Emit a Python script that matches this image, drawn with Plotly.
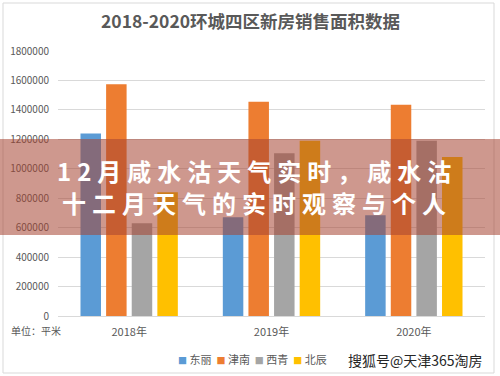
import plotly.graph_objects as go

# ---- data ----
years = ["2018年", "2019年", "2020年"]
dongli = [1240000, 670000, 685000]
jinnan = [1575000, 1455000, 1435000]
xiqing = [630000, 1105000, 1190000]
beichen = [840000, 1190000, 1080000]
series_names = ["东丽", "津南", "西青", "北辰"]
series_colors = ["#5B9BD5", "#ED7D31", "#A5A5A5", "#FFC000"]
title_text = "2018-2020环城四区新房销售面积数据"
unit_text = "单位：平米"
overlay_lines = ["12月咸水沽天气实时，咸水沽", "十二月天气的实时观察与个人"]
watermark = "搜狐号@天津365淘房"

W, H = 500, 376
L, R, T, B = 58, 485, 51, 316
CJK = "Noto Sans CJK SC"


def px_x(x):
    return (x - L) / (R - L)


def px_y(y):
    return (B - y) / (B - T)


fig = go.Figure()
for name, vals, col in zip(series_names, [dongli, jinnan, xiqing, beichen], series_colors):
    fig.add_trace(go.Bar(x=years, y=vals, name=name, marker=dict(color=col, line=dict(width=0))))

spaced = ["\u2005".join(list(s)) for s in overlay_lines]

legend_text = "  ".join(
    f"<span style='color:{c};font-size:9px'>■</span> {n}" for n, c in zip(series_names, series_colors)
)

annotations = [
    dict(text="<b>" + title_text + "</b>", x=px_x(250), y=px_y(20), xref="paper", yref="paper",
         showarrow=False, font=dict(family=CJK, size=17.5, color="#595959"), xanchor="center", yanchor="middle"),
    dict(text=unit_text, x=px_x(9), y=px_y(330), xref="paper", yref="paper",
         showarrow=False, font=dict(family=CJK, size=10, color="#595959"), xanchor="left", yanchor="middle"),
    dict(text=legend_text, x=px_x(176), y=px_y(359), xref="paper", yref="paper", showarrow=False,
         font=dict(family=CJK, size=11, color="#595959"), xanchor="left", yanchor="middle"),
    dict(text=watermark, x=px_x(415), y=px_y(360), xref="paper", yref="paper", showarrow=False,
         font=dict(family=CJK, size=14, color="#262626"), xanchor="center", yanchor="middle"),
    dict(text="<b>" + spaced[0] + "</b>", x=px_x(254), y=px_y(170), xref="paper", yref="paper",
         showarrow=False, font=dict(family=CJK, size=24, color="white"), xanchor="center", yanchor="middle"),
    dict(text="<b>" + spaced[1] + "</b>", x=px_x(254), y=px_y(202), xref="paper", yref="paper",
         showarrow=False, font=dict(family=CJK, size=24, color="white"), xanchor="center", yanchor="middle"),
]

shapes = [
    dict(type="rect", xref="paper", yref="paper", x0=px_x(3), x1=px_x(494), y0=px_y(3), y1=px_y(373),
         line=dict(color="#d9d9d9", width=1), fillcolor="rgba(0,0,0,0)", layer="below"),
    dict(type="rect", xref="paper", yref="paper", x0=px_x(-2), x1=px_x(502), y0=px_y(139), y1=px_y(235),
         line=dict(width=0), fillcolor="rgba(165,68,50,0.55)", layer="above"),
]

fig.update_layout(
    width=W, height=H,
    margin=dict(l=L, r=W - R, t=T, b=H - B, pad=0),
    paper_bgcolor="white", plot_bgcolor="white",
    barmode="group", bargap=0.28, bargroupgap=0.2,
    showlegend=False,
    annotations=annotations, shapes=shapes,
    font=dict(family=CJK, color="#595959"),
)
fig.update_xaxes(showgrid=False, showline=True, linecolor="#d9d9d9", linewidth=1, automargin=False,
                 ticks="outside", ticklen=6, tickcolor="rgba(0,0,0,0)",
                 tickfont=dict(family=CJK, size=11, color="#595959"))
fig.update_yaxes(range=[0, 1800000], dtick=200000, tickformat="d", showgrid=True, automargin=False,
                 gridcolor="#d9d9d9", gridwidth=1, zeroline=False, showline=False,
                 ticks="outside", ticklen=6, tickcolor="rgba(0,0,0,0)",
                 tickfont=dict(family=CJK, size=10, color="#595959"))

fig.write_html("out.html", config={"displayModeBar": False},
               post_script="document.body.style.margin='0';")
